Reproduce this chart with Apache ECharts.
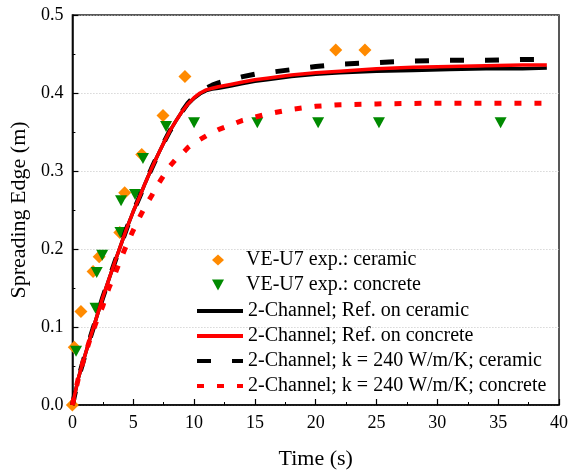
<!DOCTYPE html>
<html>
<head>
<meta charset="utf-8">
<script src="https://cdn.jsdelivr.net/npm/echarts@6/dist/echarts.min.js"></script>
<style>
html,body{margin:0;padding:0;background:#fff;}
#chart{width:571px;height:475px;}
</style>
</head>
<body>
<div id="chart"></div>
<script>
// Experimental data
const ceramicT = [0, 0.15, 0.7, 1.7, 2.2, 3.9, 4.3, 5.7, 7.45, 9.25, 21.65, 24.05];
const ceramicY = [0, 0.074, 0.12, 0.171, 0.19, 0.221, 0.272, 0.321, 0.371, 0.421, 0.455, 0.455];
const concreteT = [0.3, 1.9, 2.0, 2.45, 3.95, 4.0, 5.15, 5.8, 7.7, 10.0, 15.2, 20.2, 25.2, 35.2];
const concreteY = [0.069, 0.124, 0.170, 0.192, 0.221, 0.262, 0.270, 0.316, 0.357, 0.362, 0.362, 0.362, 0.362, 0.362];

// Simulation curves
const refCerT = [0, 0.5, 1, 1.5, 2, 2.5, 3, 3.5, 4, 4.5, 5, 5.5, 6, 6.5, 7, 7.5, 8, 8.5, 9, 9.5, 10, 10.5, 11, 11.5, 12, 13, 14, 15, 16, 18, 20, 22, 25, 28, 31, 34, 37, 39];
const refCerY = [0, 0.035, 0.062, 0.088, 0.113, 0.138, 0.161, 0.184, 0.206, 0.228, 0.248, 0.266, 0.285, 0.303, 0.32, 0.336, 0.351, 0.364, 0.376, 0.386, 0.393, 0.399, 0.403, 0.405, 0.406, 0.409, 0.412, 0.415, 0.417, 0.421, 0.424, 0.426, 0.428, 0.429, 0.430, 0.431, 0.431, 0.432];
const refConT = [0, 0.5, 1, 1.5, 2, 2.5, 3, 3.5, 4, 4.5, 5, 5.5, 6, 6.5, 7, 7.5, 8, 8.5, 9, 9.5, 10, 10.5, 11, 11.5, 12, 13, 14, 15, 16, 18, 20, 22, 25, 28, 31, 34, 37, 39];
const refConY = [0, 0.035, 0.062, 0.088, 0.113, 0.138, 0.161, 0.184, 0.206, 0.228, 0.248, 0.266, 0.285, 0.303, 0.32, 0.336, 0.351, 0.364, 0.376, 0.386, 0.394, 0.400, 0.404, 0.406, 0.408, 0.411, 0.414, 0.417, 0.419, 0.423, 0.426, 0.428, 0.431, 0.433, 0.434, 0.435, 0.436, 0.436];
const kCerT = [0, 0.5, 1, 1.5, 2, 2.5, 3, 3.5, 4, 4.5, 5, 5.5, 6, 6.5, 7, 7.5, 8, 8.5, 9, 9.5, 10, 10.5, 11, 11.5, 12, 13, 14, 15, 16, 18, 20, 22, 25, 28, 31, 34, 37, 39];
const kCerY = [0, 0.035, 0.062, 0.088, 0.113, 0.138, 0.161, 0.184, 0.206, 0.228, 0.248, 0.266, 0.285, 0.303, 0.32, 0.336, 0.351, 0.364, 0.376, 0.387, 0.395, 0.401, 0.406, 0.410, 0.413, 0.417, 0.421, 0.424, 0.426, 0.430, 0.434, 0.437, 0.439, 0.441, 0.442, 0.442, 0.443, 0.443];
const kConT = [0, 0.5, 1, 1.5, 2, 2.5, 3, 3.5, 4, 4.5, 5, 5.5, 6, 6.5, 7, 7.5, 8, 8.5, 9, 9.5, 10, 11, 12, 13, 14, 15, 16, 18, 20, 22, 25, 30, 35, 39];
const kConY = [0, 0.035, 0.062, 0.087, 0.108, 0.127, 0.150, 0.168, 0.188, 0.207, 0.224, 0.240, 0.255, 0.268, 0.282, 0.294, 0.306, 0.315, 0.322, 0.330, 0.336, 0.345, 0.353, 0.359, 0.365, 0.369, 0.373, 0.379, 0.383, 0.385, 0.386, 0.387, 0.387, 0.387];

const xTicks = [0, 5, 10, 15, 20, 25, 30, 35, 40];
const yTicks = [0.0, 0.1, 0.2, 0.3, 0.4, 0.5];

const names = [
  'VE-U7 exp.: ceramic',
  'VE-U7 exp.: concrete',
  '2-Channel; Ref. on ceramic',
  '2-Channel; Ref. on concrete',
  '2-Channel; k = 240 W/m/K; ceramic',
  '2-Channel; k = 240 W/m/K; concrete'
];

const zip = (a, b) => a.map((v, i) => [v, b[i]]);
const FONT = '"Liberation Serif", "Times New Roman", serif';
const tri = 'path://M0,0 L10,0 L5,9 Z';

const chart = echarts.init(document.getElementById('chart'), null, {renderer: 'canvas'});
chart.setOption({
  animation: false,
  backgroundColor: '#fff',
  grid: {left: 72, right: 10, top: 15, bottom: 64, show: true, borderColor: '#222', borderWidth: 1.5, containLabel: false},
  xAxis: {
    type: 'value', min: xTicks[0], max: xTicks[xTicks.length - 1], interval: 5,
    name: 'Time (s)', nameLocation: 'middle', nameGap: 43,
    nameTextStyle: {fontFamily: FONT, fontSize: 22, color: '#000'},
    axisLine: {show: true, lineStyle: {color: '#000', width: 1.5}},
    axisTick: {show: true, inside: true, length: 6, lineStyle: {color: '#000', width: 1.2}},
    minorTick: {show: true, splitNumber: 2, length: 3, lineStyle: {color: '#000', width: 1}},
    axisLabel: {fontFamily: FONT, fontSize: 18, color: '#000', margin: 9},
    splitLine: {show: false}
  },
  yAxis: {
    type: 'value', min: yTicks[0], max: yTicks[yTicks.length - 1], interval: 0.1,
    name: 'Spreading Edge (m)', nameLocation: 'middle', nameGap: 35,
    nameTextStyle: {fontFamily: FONT, fontSize: 22, color: '#000'},
    axisLine: {show: true, lineStyle: {color: '#000', width: 1.5}},
    axisTick: {show: true, inside: true, length: 6, lineStyle: {color: '#000', width: 1.2}},
    minorTick: {show: true, splitNumber: 2, length: 3, lineStyle: {color: '#000', width: 1}},
    axisLabel: {fontFamily: FONT, fontSize: 18, color: '#000', margin: 9, formatter: v => v.toFixed(1)},
    splitLine: {show: true, lineStyle: {color: '#c4c4c4', type: [1, 2], width: 1}}
  },
  legend: [
    {
      orient: 'vertical', left: 212, top: 250, padding: 0,
      itemWidth: 12, itemHeight: 11, itemGap: 5,
      textStyle: {fontFamily: FONT, fontSize: 20, color: '#000', padding: [0, 0, 0, 17]},
      data: names.slice(0, 2)
    },
    {
      orient: 'vertical', left: 195, top: 301, padding: 0,
      itemWidth: 46, itemHeight: 11, itemGap: 5,
      itemStyle: {color: 'rgba(0,0,0,0)', opacity: 0, borderWidth: 0},
      lineStyle: {width: 4},
      textStyle: {fontFamily: FONT, fontSize: 20, color: '#000'},
      data: names.slice(2)
    }
  ],
  series: [
    {name: names[0], type: 'scatter', data: zip(ceramicT, ceramicY), symbol: 'diamond', symbolSize: [13, 13],
     itemStyle: {color: '#FF8A00', opacity: 1}, z: 2},
    {name: names[1], type: 'scatter', data: zip(concreteT, concreteY), symbol: tri, symbolSize: [12, 11],
     itemStyle: {color: '#008A00', opacity: 1}, z: 2},
    {name: names[2], type: 'line', data: zip(refCerT, refCerY), symbol: 'none', smooth: false,
     lineStyle: {color: '#000', width: 3.5}, itemStyle: {color: '#000'}, z: 3},
    {name: names[3], type: 'line', data: zip(refConT, refConY), symbol: 'none',
     lineStyle: {color: '#FF0000', width: 3.5}, itemStyle: {color: '#FF0000'}, z: 4},
    {name: names[4], type: 'line', data: zip(kCerT, kCerY), symbol: 'none',
     lineStyle: {color: '#000', width: 5, type: [14, 21], cap: 'butt'}, itemStyle: {color: '#000'}, z: 3},
    {name: names[5], type: 'line', data: zip(kConT, kConY), symbol: 'none',
     lineStyle: {color: '#FF0000', width: 5, type: [7, 13], cap: 'butt'}, itemStyle: {color: '#FF0000'}, z: 4}
  ]
});
</script>
</body>
</html>
